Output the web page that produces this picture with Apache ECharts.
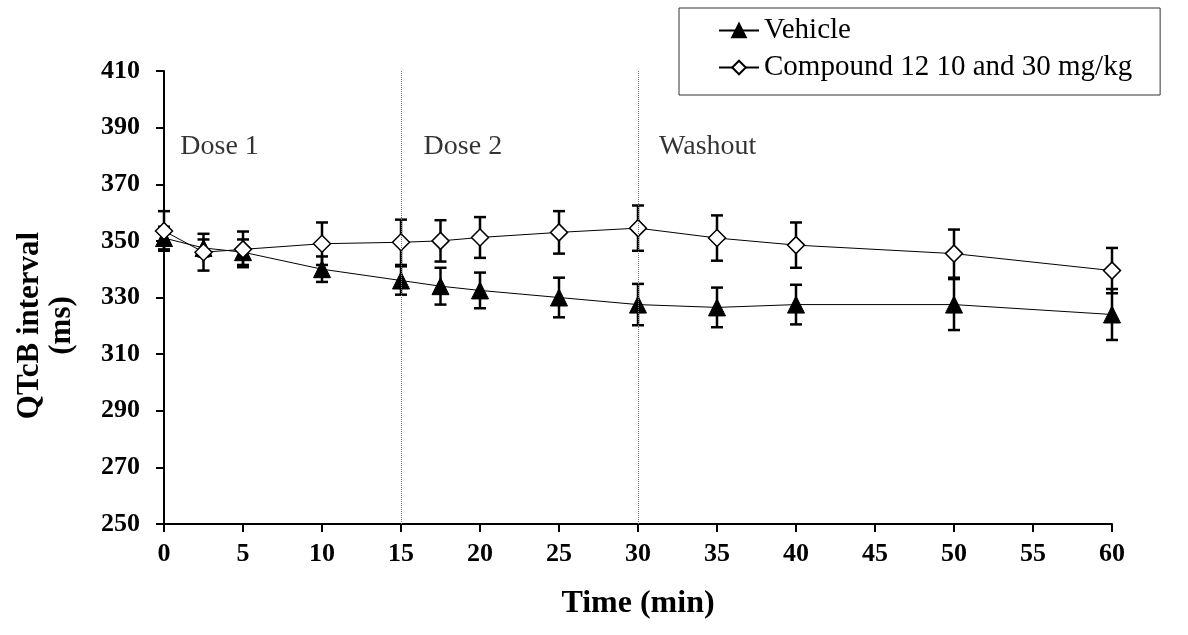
<!DOCTYPE html>
<html>
<head>
<meta charset="utf-8">
<script src="https://cdn.jsdelivr.net/npm/echarts@6/dist/echarts.min.js"></script>
<style>html,body{margin:0;padding:0;background:#fff}#c{width:1188px;height:635px}</style>
</head>
<body>
<div id="c"></div>
<script>
// ---- data ----
const times = [0, 2.5, 5, 10, 15, 17.5, 20, 25, 30, 35, 40, 50, 60];
const vehicle = [351, 347.5, 346, 340, 336, 334, 332.5, 330, 327.5, 326.5, 327.5, 327.5, 324];
const vehicleErr = [4, 3, 4.5, 4.5, 5, 6.5, 6.3, 7, 7.3, 7, 7, 9, 9];
const compound = [353.5, 346, 347, 349, 349.5, 350, 351.2, 353, 354.5, 351, 348.5, 345.5, 339.5];
const compoundErr = [7, 6.5, 6.3, 7.5, 8, 7.3, 7.2, 7.5, 8, 8, 8, 8.5, 8];
const seriesNames = ['Vehicle', 'Compound 12 10 and 30 mg/kg'];
const phaseLines = [15, 30];
const phaseLabels = ['Dose 1', 'Dose 2', 'Washout'];
const phaseLabelPos = [[1.0, 383.3], [16.4, 383.3], [31.3, 383.3]];
const yMin = 250, yMax = 410, yStep = 20;
const xMin = 0, xMax = 60, xStep = 5;

// y axis is offset so ticks start at a multiple of the interval
const base = yMin;
const sh = v => v - base;

const font = 'Liberation Serif';
const chart = echarts.init(document.getElementById('c'));

function errData(vals, errs) {
  return times.map((t, i) => [t, sh(vals[i] - errs[i]), sh(vals[i] + errs[i])]);
}
function errRender(params, api) {
  const x = api.value(0), lo = api.value(1), hi = api.value(2);
  const pHi = api.coord([x, hi]), pLo = api.coord([x, lo]);
  const w = 6;
  const st = { stroke: '#000', lineWidth: 2.5 };
  return {
    type: 'group',
    children: [
      { type: 'line', shape: { x1: pHi[0], y1: pHi[1], x2: pLo[0], y2: pLo[1] }, style: st },
      { type: 'line', shape: { x1: pHi[0] - w, y1: pHi[1], x2: pHi[0] + w, y2: pHi[1] }, style: st },
      { type: 'line', shape: { x1: pLo[0] - w, y1: pLo[1], x2: pLo[0] + w, y2: pLo[1] }, style: st }
    ]
  };
}

const option = {
  animation: false,
  backgroundColor: '#fff',
  grid: { left: 164, right: 76, top: 71, bottom: 111, containLabel: false },
  legend: {
    left: 679, top: 8,
    orient: 'vertical',
    data: seriesNames,
    borderColor: '#333', borderWidth: 1, borderRadius: 0,
    padding: [8, 28, 13, 39],
    itemGap: 8, itemWidth: 40, itemHeight: 17,
    textStyle: { fontFamily: font, fontSize: 29, color: '#000' }
  },
  xAxis: {
    type: 'value', min: xMin, max: xMax, interval: xStep,
    name: 'Time (min)', nameLocation: 'middle', nameGap: 64,
    nameTextStyle: { fontFamily: font, fontSize: 32, fontWeight: 'bold', color: '#000' },
    axisLine: { lineStyle: { color: '#000', width: 2 } },
    axisTick: { show: true, length: 8, lineStyle: { color: '#000', width: 2 } },
    axisLabel: { fontFamily: font, fontSize: 26, fontWeight: 'bold', color: '#000', margin: 17 },
    splitLine: { show: false }
  },
  yAxis: {
    type: 'value', min: 0, max: yMax - yMin, interval: yStep,
    name: 'QTcB interval\n(ms)', nameLocation: 'middle', nameGap: 86, nameRotate: 90,
    nameTextStyle: { fontFamily: font, fontSize: 31, fontWeight: 'bold', color: '#000', lineHeight: 32,
      padding: [0, 56, 0, 0] },
    axisLine: { show: true, lineStyle: { color: '#000', width: 2 } },
    axisTick: { show: true, length: 8, lineStyle: { color: '#000', width: 2 } },
    axisLabel: { fontFamily: font, fontSize: 26, fontWeight: 'bold', color: '#000', margin: 24,
      formatter: v => String(v + base) },
    splitLine: { show: false }
  },
  series: [
    {
      type: 'custom', name: 'vehErr', renderItem: errRender, data: errData(vehicle, vehicleErr), z: 2, silent: true
    },
    {
      type: 'custom', name: 'cmpErr', renderItem: errRender, data: errData(compound, compoundErr), z: 2, silent: true
    },
    {
      name: seriesNames[0], type: 'line', z: 3,
      data: times.map((t, i) => [t, sh(vehicle[i])]),
      symbol: 'triangle', symbolSize: 17,
      itemStyle: { color: '#000', borderColor: '#000', borderWidth: 1 },
      lineStyle: { color: '#000', width: 1 },
      markLine: {
        silent: true, symbol: ['none', 'none'], label: { show: false },
        lineStyle: { color: '#777', type: 'dotted', width: 1 },
        data: phaseLines.map(x => ({ xAxis: x }))
      }
    },
    {
      name: seriesNames[1], type: 'line', z: 4,
      data: times.map((t, i) => [t, sh(compound[i])]),
      symbol: 'diamond', symbolSize: 17,
      itemStyle: { color: '#fff', borderColor: '#000', borderWidth: 1.5 },
      lineStyle: { color: '#000', width: 1 }
    },
    {
      type: 'scatter', name: 'phases', silent: true, z: 5,
      symbolSize: 1, itemStyle: { color: 'rgba(0,0,0,0)' },
      data: phaseLabelPos.map((p, i) => ({ value: [p[0], sh(p[1])], name: phaseLabels[i] })),
      label: { show: true, position: 'right', distance: 0, formatter: p => p.name,
        fontFamily: font, fontSize: 28, color: '#000' }
    }
  ]
};
chart.setOption(option);
</script>
</body>
</html>
